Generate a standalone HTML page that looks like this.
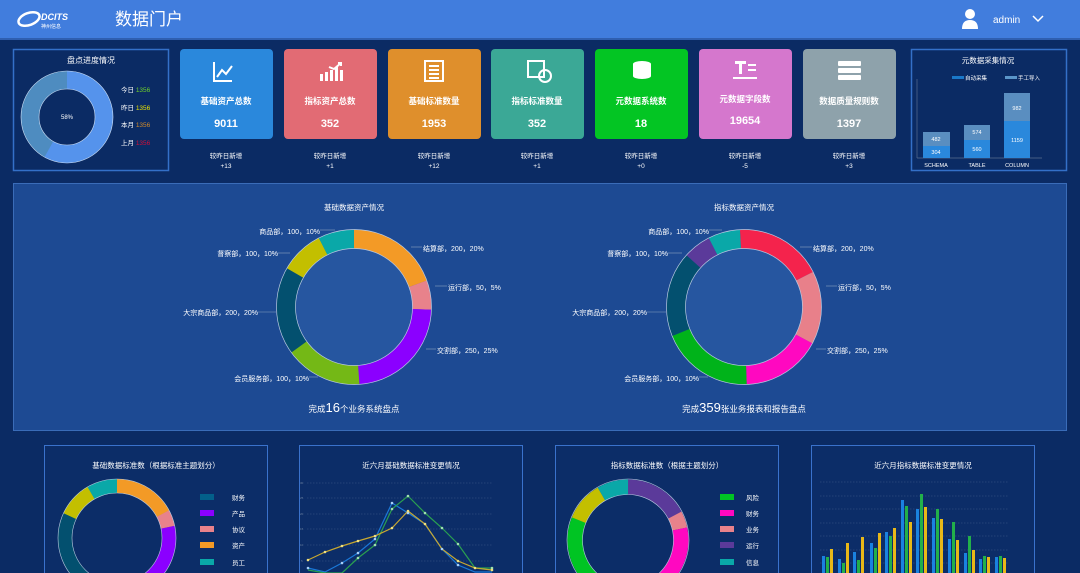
<!DOCTYPE html>
<html><head><meta charset="utf-8"><style>
html,body{margin:0;padding:0;width:1080px;height:573px;overflow:hidden;background:#0b2b64;}
svg{display:block;font-family:"Liberation Sans","Noto Sans CJK SC",sans-serif;}
</style></head><body>
<svg width="1080" height="573" viewBox="0 0 1080 573" xmlns="http://www.w3.org/2000/svg">
<rect width="1080" height="573" fill="#0b2b64"/>
<!-- header -->
<rect x="0" y="0" width="1080" height="38" fill="#417ddd"/>
<rect x="0" y="38" width="1080" height="2" fill="#2f5fb0"/>
<ellipse cx="29" cy="19" rx="11" ry="6" fill="none" stroke="#fff" stroke-width="2.5" transform="rotate(-20 29 19)"/>
<text x="41" y="20" font-size="9" font-weight="bold" fill="#fff" font-style="italic">DCITS</text>
<text x="41" y="28" font-size="5" fill="#fff">神州信息</text>
<text x="115" y="25" font-size="17" fill="#fff">数据门户</text>
<circle cx="970" cy="14" r="5" fill="#fff"/>
<path d="M962 29 Q962 20 970 20 Q978 20 978 29 Z" fill="#fff"/>
<text x="993" y="23" font-size="10" fill="#fff">admin</text>
<path d="M1033 16 L1038 21 L1043 16" fill="none" stroke="#fff" stroke-width="1.5"/>

<!-- left progress panel -->
<rect x="13.5" y="49.5" width="155" height="121" fill="#0b2b64" stroke="#3470c8" stroke-width="1.5"/>
<text x="91" y="63" font-size="8" fill="#fff" text-anchor="middle">盘点进度情况</text>
<circle cx="67" cy="117" r="37" fill="none" stroke="#4e8cc0" stroke-width="18"/>
<circle cx="67" cy="117" r="37" fill="none" stroke="#5593ec" stroke-width="18" stroke-dasharray="135 300" transform="rotate(-90 67 117)"/>
<circle cx="67" cy="117" r="46" fill="none" stroke="#cfe0f5" stroke-width="0.6"/>
<circle cx="67" cy="117" r="28" fill="none" stroke="#cfe0f5" stroke-width="0.6"/>
<text x="67" y="119" font-size="6" fill="#fff" text-anchor="middle">58%</text>
<g font-size="6.5" fill="#fff">
<text x="121" y="92">今日 <tspan fill="#6fd02a">1356</tspan></text>
<text x="121" y="110">昨日 <tspan fill="#e8e000">1356</tspan></text>
<text x="121" y="127">本月 <tspan fill="#d08a2a">1356</tspan></text>
<text x="121" y="145">上月 <tspan fill="#d0103a">1356</tspan></text>
</g>

<!-- cards -->
<g font-size="8.5" font-weight="bold" fill="#fff" text-anchor="middle">
<rect x="180" y="49" width="93" height="90" rx="4" fill="#2a88dc"/>
<rect x="284" y="49" width="93" height="90" rx="4" fill="#e26b74"/>
<rect x="388" y="49" width="93" height="90" rx="4" fill="#df8f2c"/>
<rect x="491" y="49" width="93" height="90" rx="4" fill="#3ba896"/>
<rect x="595" y="49" width="93" height="90" rx="4" fill="#03c523"/>
<rect x="699" y="49" width="93" height="90" rx="4" fill="#d577cd"/>
<rect x="803" y="49" width="93" height="90" rx="4" fill="#8ea2ab"/>
<text x="226" y="104">基础资产总数</text><text x="330" y="104">指标资产总数</text><text x="434" y="104">基础标准数量</text><text x="537" y="104">指标标准数量</text><text x="641" y="104">元数据系统数</text><text x="745" y="102">元数据字段数</text><text x="849" y="104">数据质量规则数</text>
<g font-size="11"><text x="226" y="127">9011</text><text x="330" y="127">352</text><text x="434" y="127">1953</text><text x="537" y="127">352</text><text x="641" y="127">18</text><text x="745" y="124">19654</text><text x="849" y="127">1397</text></g>
<g font-weight="normal" font-size="6.5">
<text x="226" y="158">较昨日新增</text><text x="226" y="168">+13</text>
<text x="330" y="158">较昨日新增</text><text x="330" y="168">+1</text>
<text x="434" y="158">较昨日新增</text><text x="434" y="168">+12</text>
<text x="537" y="158">较昨日新增</text><text x="537" y="168">+1</text>
<text x="641" y="158">较昨日新增</text><text x="641" y="168">+0</text>
<text x="745" y="158">较昨日新增</text><text x="745" y="168">-5</text>
<text x="849" y="158">较昨日新增</text><text x="849" y="168">+3</text>
</g>
</g>
<!-- card icons -->
<g fill="none" stroke="#fff" stroke-width="2">
<path d="M214 62 V81 H232"/><path d="M217 77 L222 70 L226 74 L232 66"/>
<path d="M329 67 L334 69 L341 63 M338 63 H341 V66"/>
</g>
<g fill="#fff">
<rect x="320" y="74" width="3" height="7"/><rect x="325" y="72" width="3" height="9"/><rect x="330" y="70" width="3" height="11"/><rect x="335" y="67" width="3" height="14"/><rect x="340" y="70" width="3" height="11"/>
<rect x="425" y="61" width="18" height="20" fill="none" stroke="#fff" stroke-width="2"/>
<rect x="429" y="65" width="10" height="2"/><rect x="429" y="69" width="10" height="2"/><rect x="429" y="73" width="10" height="2"/><rect x="429" y="77" width="10" height="2"/>
<rect x="528" y="61" width="16" height="16" fill="none" stroke="#fff" stroke-width="2"/>
<circle cx="545" cy="76" r="6" fill="none" stroke="#fff" stroke-width="2"/>
<ellipse cx="642" cy="64" rx="9" ry="3"/><ellipse cx="642" cy="70" rx="9" ry="3"/><ellipse cx="642" cy="76" rx="9" ry="3"/><rect x="633" y="64" width="18" height="12"/>
<rect x="735" y="61" width="11" height="3"/><rect x="739" y="61" width="3" height="13"/><rect x="748" y="64" width="8" height="2"/><rect x="748" y="69" width="8" height="2"/><rect x="733" y="77" width="24" height="2"/>
<rect x="838" y="61" width="23" height="5" rx="1"/><rect x="838" y="68" width="23" height="5" rx="1"/><rect x="838" y="75" width="23" height="5" rx="1"/>
</g>

<!-- metadata panel -->
<rect x="911.5" y="49.5" width="155" height="121" fill="#0b2b64" stroke="#3470c8" stroke-width="1.5"/>
<text x="988" y="63" font-size="7.5" fill="#fff" text-anchor="middle">元数据采集情况</text>
<rect x="952" y="76" width="12" height="3" fill="#1a78c8"/><text x="965" y="80" font-size="5.5" fill="#fff">自动采集</text>
<rect x="1005" y="76" width="12" height="3" fill="#5a95c8"/><text x="1018" y="80" font-size="5.5" fill="#fff">手工导入</text>
<line x1="917" y1="79" x2="917" y2="158" stroke="#5a6f90" stroke-width="0.7"/>
<line x1="917" y1="158" x2="1042" y2="158" stroke="#5a6f90" stroke-width="0.7"/>
<rect x="923" y="146" width="27" height="12" fill="#2a88dc"/><rect x="923" y="132" width="27" height="14" fill="#5a8ec0"/>
<rect x="964" y="140" width="26" height="18" fill="#2a88dc"/><rect x="964" y="125" width="26" height="15" fill="#5a8ec0"/>
<rect x="1004" y="121" width="26" height="37" fill="#2a88dc"/><rect x="1004" y="93" width="26" height="28" fill="#5a8ec0"/>
<g font-size="5.5" fill="#fff" text-anchor="middle">
<text x="936" y="154">304</text><text x="936" y="141">482</text>
<text x="977" y="151">560</text><text x="977" y="134">574</text>
<text x="1017" y="142">1159</text><text x="1017" y="110">982</text>
<text x="936" y="167">SCHEMA</text><text x="977" y="167">TABLE</text><text x="1017" y="167">COLUMN</text>
</g>

<!-- middle panel -->
<rect x="13.5" y="183.5" width="1053" height="247" fill="#1d4a93" stroke="#3a6cb8" stroke-width="1"/>
<g font-size="7" fill="#fff">
<text x="354" y="210" text-anchor="middle" font-size="7.5">基础数据资产情况</text>
<circle cx="354" cy="307" r="74" fill="#2656a0"/>
<g fill="none" stroke-width="19">
<circle cx="354" cy="307" r="68" stroke="#f39a26" stroke-dasharray="83.1 500" transform="rotate(-90 354 307)"/>
<circle cx="354" cy="307" r="68" stroke="#e8828b" stroke-dasharray="26.1 500" transform="rotate(-20 354 307)"/>
<circle cx="354" cy="307" r="68" stroke="#8b00ff" stroke-dasharray="99.7 500" transform="rotate(2 354 307)"/>
<circle cx="354" cy="307" r="68" stroke="#74b816" stroke-dasharray="68.8 500" transform="rotate(86 354 307)"/>
<circle cx="354" cy="307" r="68" stroke="#03506f" stroke-dasharray="78.3 500" transform="rotate(144 354 307)"/>
<circle cx="354" cy="307" r="68" stroke="#c3bf00" stroke-dasharray="39.2 500" transform="rotate(210 354 307)"/>
<circle cx="354" cy="307" r="68" stroke="#0aa8a8" stroke-dasharray="32 500" transform="rotate(243 354 307)"/>
</g>
<circle cx="354" cy="307" r="77.5" fill="none" stroke="#b8c8e0" stroke-width="0.7"/>
<circle cx="354" cy="307" r="58.5" fill="none" stroke="#b8c8e0" stroke-width="0.7"/>
<g stroke="#8aa0c0" stroke-width="0.6">
<line x1="320" y1="230" x2="335" y2="230"/><line x1="278" y1="253" x2="290" y2="253"/><line x1="258" y1="312" x2="276" y2="312"/><line x1="309" y1="377" x2="318" y2="377"/>
<line x1="411" y1="247" x2="422" y2="247"/><line x1="435" y1="286" x2="447" y2="286"/><line x1="426" y1="349" x2="436" y2="349"/>
</g>
<text x="320" y="234" text-anchor="end">商品部，100，10%</text>
<text x="278" y="256" text-anchor="end">督察部，100，10%</text>
<text x="258" y="315" text-anchor="end">大宗商品部，200，20%</text>
<text x="309" y="381" text-anchor="end">会员服务部，100，10%</text>
<text x="423" y="251">结算部，200，20%</text>
<text x="448" y="290">运行部，50，5%</text>
<text x="437" y="353">交割部，250，25%</text>
<text x="354" y="412" text-anchor="middle" font-size="8.5">完成<tspan font-size="13">16</tspan>个业务系统盘点</text>

<text x="744" y="210" text-anchor="middle" font-size="7.5">指标数据资产情况</text>
<circle cx="744" cy="307" r="74" fill="#2656a0"/>
<g fill="none" stroke-width="19">
<circle cx="744" cy="307" r="68" stroke="#f4234c" stroke-dasharray="78.3 500" transform="rotate(-93 744 307)"/>
<circle cx="744" cy="307" r="68" stroke="#e8808a" stroke-dasharray="65.3 500" transform="rotate(-27 744 307)"/>
<circle cx="744" cy="307" r="68" stroke="#ff08c0" stroke-dasharray="71.2 500" transform="rotate(28 744 307)"/>
<circle cx="744" cy="307" r="68" stroke="#00b31a" stroke-dasharray="83.1 500" transform="rotate(88 744 307)"/>
<circle cx="744" cy="307" r="68" stroke="#03506f" stroke-dasharray="76 500" transform="rotate(158 744 307)"/>
<circle cx="744" cy="307" r="68" stroke="#5b3a9a" stroke-dasharray="24.9 500" transform="rotate(222 744 307)"/>
<circle cx="744" cy="307" r="68" stroke="#0aa8a8" stroke-dasharray="28.5 500" transform="rotate(243 744 307)"/>
</g>
<circle cx="744" cy="307" r="77.5" fill="none" stroke="#b8c8e0" stroke-width="0.7"/>
<circle cx="744" cy="307" r="58.5" fill="none" stroke="#b8c8e0" stroke-width="0.7"/>
<g stroke="#8aa0c0" stroke-width="0.6">
<line x1="709" y1="230" x2="722" y2="230"/><line x1="668" y1="253" x2="682" y2="253"/><line x1="647" y1="312" x2="666" y2="312"/><line x1="699" y1="377" x2="708" y2="377"/>
<line x1="800" y1="247" x2="812" y2="247"/><line x1="826" y1="286" x2="837" y2="286"/><line x1="816" y1="349" x2="826" y2="349"/>
</g>
<text x="709" y="234" text-anchor="end">商品部，100，10%</text>
<text x="668" y="256" text-anchor="end">督察部，100，10%</text>
<text x="647" y="315" text-anchor="end">大宗商品部，200，20%</text>
<text x="699" y="381" text-anchor="end">会员服务部，100，10%</text>
<text x="813" y="251">结算部，200，20%</text>
<text x="838" y="290">运行部，50，5%</text>
<text x="827" y="353">交割部，250，25%</text>
<text x="744" y="412" text-anchor="middle" font-size="8.5">完成<tspan font-size="13">359</tspan>张业务报表和报告盘点</text>
</g>

<!-- bottom panels -->
<g fill="#0c2d68" stroke="#3a72cc" stroke-width="1">
<rect x="44.5" y="445.5" width="223" height="135"/>
<rect x="299.5" y="445.5" width="223" height="135"/>
<rect x="555.5" y="445.5" width="223" height="135"/>
<rect x="811.5" y="445.5" width="223" height="135"/>
</g>
<g font-size="7.5" fill="#fff" text-anchor="middle">
<text x="156" y="468">基础数据标准数（根据标准主题划分）</text>
<text x="411" y="468">近六月基础数据标准变更情况</text>
<text x="667" y="468">指标数据标准数（根据主题划分）</text>
<text x="923" y="468">近六月指标数据标准变更情况</text>
</g>

<!-- bottom donut 1 -->
<g fill="none" stroke-width="14">
<circle cx="117" cy="538" r="52" stroke="#74b816"/>
<circle cx="117" cy="538" r="52" stroke="#f39a26" stroke-dasharray="56.3 400" transform="rotate(-90 117 538)"/>
<circle cx="117" cy="538" r="52" stroke="#e8828b" stroke-dasharray="14.5 400" transform="rotate(-28 117 538)"/>
<circle cx="117" cy="538" r="52" stroke="#8b00ff" stroke-dasharray="65.3 400" transform="rotate(-12 117 538)"/>
<circle cx="117" cy="538" r="52" stroke="#03506f" stroke-dasharray="86.2 400" transform="rotate(110 117 538)"/>
<circle cx="117" cy="538" r="52" stroke="#c3bf00" stroke-dasharray="31.8 400" transform="rotate(205 117 538)"/>
<circle cx="117" cy="538" r="52" stroke="#0aa8a8" stroke-dasharray="27.2 400" transform="rotate(240 117 538)"/>
</g>
<circle cx="117" cy="538" r="59" fill="none" stroke="#b8c8e0" stroke-width="0.6"/>
<circle cx="117" cy="538" r="45" fill="none" stroke="#b8c8e0" stroke-width="0.6"/>
<g font-size="6.5" fill="#fff">
<rect x="200" y="494" width="14" height="6" fill="#03608a"/><text x="232" y="500">财务</text>
<rect x="200" y="510" width="14" height="6" fill="#8b00ff"/><text x="232" y="516">产品</text>
<rect x="200" y="526" width="14" height="6" fill="#e8828b"/><text x="232" y="532">协议</text>
<rect x="200" y="542" width="14" height="6" fill="#f39a26"/><text x="232" y="548">资产</text>
<rect x="200" y="559" width="14" height="6" fill="#0aa8a8"/><text x="232" y="565">员工</text>
</g>

<!-- bottom donut 2 -->
<g fill="none" stroke-width="15">
<circle cx="628" cy="540" r="53" stroke="#00c423" stroke-dasharray="112.9 400" transform="rotate(80 628 540)"/>
<circle cx="628" cy="540" r="53" stroke="#5b3a9a" stroke-dasharray="57.4 400" transform="rotate(-90 628 540)"/>
<circle cx="628" cy="540" r="53" stroke="#e8828b" stroke-dasharray="14.8 400" transform="rotate(-28 628 540)"/>
<circle cx="628" cy="540" r="53" stroke="#ff08c0" stroke-dasharray="85.1 400" transform="rotate(-12 628 540)"/>
<circle cx="628" cy="540" r="53" stroke="#c3bf00" stroke-dasharray="35.2 400" transform="rotate(202 628 540)"/>
<circle cx="628" cy="540" r="53" stroke="#0aa8a8" stroke-dasharray="27.8 400" transform="rotate(240 628 540)"/>
</g>
<circle cx="628" cy="540" r="61" fill="none" stroke="#b8c8e0" stroke-width="0.6"/>
<circle cx="628" cy="540" r="45.5" fill="none" stroke="#b8c8e0" stroke-width="0.6"/>
<g font-size="6.5" fill="#fff">
<rect x="720" y="494" width="14" height="6" fill="#00c423"/><text x="746" y="500">风险</text>
<rect x="720" y="510" width="14" height="6" fill="#ff08c0"/><text x="746" y="516">财务</text>
<rect x="720" y="526" width="14" height="6" fill="#e8828b"/><text x="746" y="532">业务</text>
<rect x="720" y="542" width="14" height="6" fill="#5b3a9a"/><text x="746" y="548">运行</text>
<rect x="720" y="559" width="14" height="6" fill="#0aa8a8"/><text x="746" y="565">信息</text>
</g>

<!-- line chart -->
<g stroke="#3d5a88" stroke-width="0.6" stroke-dasharray="1.5 1.5">
<line x1="307" y1="483" x2="493" y2="483"/><line x1="307" y1="498" x2="493" y2="498"/><line x1="307" y1="514" x2="493" y2="514"/><line x1="307" y1="529" x2="493" y2="529"/><line x1="307" y1="545" x2="493" y2="545"/><line x1="307" y1="561" x2="493" y2="561"/>
</g>
<g font-size="3" fill="#6b80a0"><text x="300" y="484">30</text><text x="300" y="499">25</text><text x="300" y="515">20</text><text x="300" y="530">15</text><text x="300" y="546">10</text><text x="301" y="562">5</text></g>
<g fill="none" stroke-width="1.2">
<polyline stroke="#1a78d8" points="308,568 325,572 342,563 358,553 375,539 392,503 408,513 425,524 442,549 458,565 475,572 492,572"/>
<polyline stroke="#2aa050" points="308,570 325,573 342,573 358,558 375,545 392,509 408,496 425,513 442,528 458,544 475,568 492,568"/>
<polyline stroke="#c8a830" points="308,560 325,552 342,546 358,541 375,536 392,528 408,511 425,524 442,549 458,561 475,568 492,570"/>
</g>
<g fill="#a8d0f8">
<circle cx="308" cy="568" r="1.3"/><circle cx="342" cy="563" r="1.3"/><circle cx="358" cy="553" r="1.3"/><circle cx="375" cy="539" r="1.3"/><circle cx="392" cy="503" r="1.3"/><circle cx="408" cy="513" r="1.3"/><circle cx="442" cy="549" r="1.3"/><circle cx="458" cy="565" r="1.3"/>
</g>
<g fill="#a0e0b0"><circle cx="358" cy="558" r="1.3"/><circle cx="375" cy="545" r="1.3"/><circle cx="392" cy="509" r="1.3"/><circle cx="408" cy="496" r="1.3"/><circle cx="425" cy="513" r="1.3"/><circle cx="442" cy="528" r="1.3"/><circle cx="458" cy="544" r="1.3"/><circle cx="492" cy="568" r="1.3"/></g>
<g fill="#f0e080"><circle cx="308" cy="560" r="1.3"/><circle cx="325" cy="552" r="1.3"/><circle cx="342" cy="546" r="1.3"/><circle cx="358" cy="541" r="1.3"/><circle cx="375" cy="536" r="1.3"/><circle cx="392" cy="528" r="1.3"/><circle cx="408" cy="511" r="1.3"/><circle cx="425" cy="524" r="1.3"/><circle cx="458" cy="561" r="1.3"/><circle cx="475" cy="568" r="1.3"/><circle cx="492" cy="570" r="1.3"/></g>

<!-- bar chart -->
<g stroke="#3d5a88" stroke-width="0.6" stroke-dasharray="1.5 1.5">
<line x1="820" y1="482" x2="1009" y2="482"/><line x1="820" y1="496" x2="1009" y2="496"/><line x1="820" y1="509" x2="1009" y2="509"/><line x1="820" y1="523" x2="1009" y2="523"/><line x1="820" y1="536" x2="1009" y2="536"/><line x1="820" y1="550" x2="1009" y2="550"/><line x1="820" y1="563" x2="1009" y2="563"/>
</g>
<g fill="#1a82e0">
<rect x="822" y="556" width="3" height="20"/><rect x="838" y="559" width="3" height="20"/><rect x="853" y="552" width="3" height="25"/><rect x="870" y="543" width="3" height="32"/><rect x="885" y="532" width="3" height="45"/><rect x="901" y="500" width="3" height="75"/><rect x="916" y="509" width="3" height="65"/><rect x="932" y="518" width="3" height="60"/><rect x="948" y="539" width="3" height="40"/><rect x="964" y="553" width="3" height="25"/><rect x="979" y="559" width="3" height="20"/><rect x="995" y="557" width="3" height="20"/>
</g>
<g fill="#22b04a">
<rect x="826" y="557" width="3" height="20"/><rect x="842" y="563" width="3" height="20"/><rect x="857" y="560" width="3" height="20"/><rect x="874" y="548" width="3" height="30"/><rect x="889" y="536" width="3" height="40"/><rect x="905" y="506" width="3" height="70"/><rect x="920" y="494" width="3" height="80"/><rect x="936" y="509" width="3" height="65"/><rect x="952" y="522" width="3" height="55"/><rect x="968" y="536" width="3" height="40"/><rect x="983" y="556" width="3" height="20"/><rect x="999" y="556" width="3" height="20"/>
</g>
<g fill="#e8b818">
<rect x="830" y="549" width="3" height="30"/><rect x="846" y="543" width="3" height="35"/><rect x="861" y="537" width="3" height="40"/><rect x="878" y="533" width="3" height="45"/><rect x="893" y="528" width="3" height="50"/><rect x="909" y="522" width="3" height="55"/><rect x="924" y="507" width="3" height="70"/><rect x="940" y="519" width="3" height="60"/><rect x="956" y="540" width="3" height="40"/><rect x="972" y="550" width="3" height="30"/><rect x="987" y="557" width="3" height="20"/><rect x="1003" y="558" width="3" height="20"/>
</g>
</svg>
</body></html>
